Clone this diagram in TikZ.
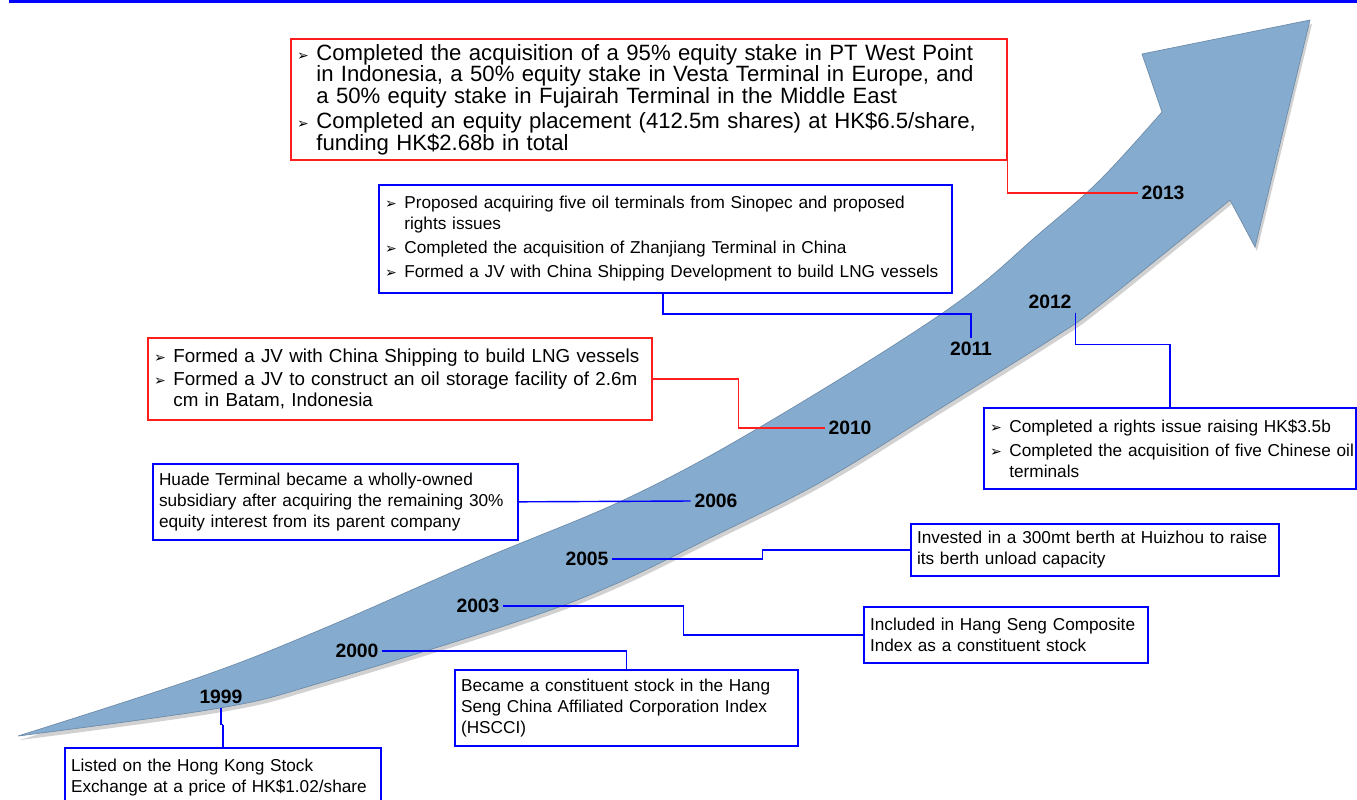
\documentclass[tikz,border=0pt]{standalone}
\usepackage{fontspec}
\setmainfont{Liberation Sans}
\newfontfamily\dejavu{DejaVu Sans}
\usetikzlibrary{calc}
\definecolor{lineblue}{RGB}{0,0,255}
\definecolor{linered}{RGB}{255,30,30}
\definecolor{arrowblue}{RGB}{133,172,207}
\definecolor{arrowedge}{RGB}{110,140,170}
\newcommand{\bitem}{\makebox[11pt][l]{\dejavu\fontsize{8}{8}\selectfont ➢}}
\newcommand{\bcont}{\hspace*{11pt}}
\newcommand{\arrowpath}{plot[smooth, tension=0.6] coordinates {(18,736) (200,677) (320,630) (480,560) (630,497) (767,423) (947,310) (1040,233) (1100,180) (1162,112)}
  -- (1142,54) -- (1310,20) -- (1255,247)
  -- plot[smooth, tension=0.6] coordinates {(1230,200) (1100,305) (1050,340) (933,413) (850,465) (793,497) (716,535) (613,585) (513,623) (320,683) (220,708) (18,736)} -- cycle}

\begin{document}
\begin{tikzpicture}[
  x=0.02cm, y=-0.02cm,
  font=\fontsize{9.8}{11.8}\selectfont,
  year/.style={
    font=\fontsize{11}{13}\selectfont\bfseries,
    inner sep=2pt,
  },
  bluebox/.style={
    draw=lineblue,
    line width=1pt,
    fill=white,
    anchor=north west,
    align=left,
    inner xsep=3.5pt,
    inner ysep=3pt,
  },
  redbox/.style={
    bluebox,
    draw=linered,
  },
  blueline/.style={draw=lineblue, line width=0.8pt},
  redline/.style={draw=linered, line width=0.8pt},
  arrowbody/.style={fill=arrowblue, draw=arrowedge, line width=0.4pt},
  arrowshadow/.style={fill=black, opacity=0.18}
]
  \useasboundingbox (0,0) rectangle (1357,799);
  \clip (0,0) rectangle (1357,799);

  % === top rule ===
  \fill[lineblue] (9,0) rectangle (1357,3);

  % === growth arrow ===
  \path[arrowshadow, shift={(2,4)}] \arrowpath;
  \path[arrowbody] \arrowpath;

  % === years on the arrow ===
  \node[year] (y-99) at (221,697) {1999};
  \node[year] (y-00) at (357,651) {2000};
  \node[year] (y-03) at (478,606) {2003};
  \node[year] (y-05) at (587,559) {2005};
  \node[year] (y-06) at (716,501) {2006};
  \node[year] (y-10) at (850,428) {2010};
  \node[year] (y-11) at (971,349) {2011};
  \node[year] (y-12) at (1050,302) {2012};
  \node[year] (y-13) at (1163,193) {2013};

  % === event boxes ===
  \node[bluebox, minimum width=179.8pt, minimum height=34.1pt, text width=172.8pt] (b-99) at (64,747)
    {Listed on the Hong Kong Stock\\ Exchange at a price of HK\$1.02/share};
  \node[bluebox, minimum width=195.2pt, minimum height=43.2pt, text width=188.2pt] (b-00) at (454,669)
    {Became a constituent stock in the Hang\\ \mbox{Seng China Affiliated Corporation Index}\\ (HSCCI)};
  \node[bluebox, minimum width=161.6pt, minimum height=31.9pt, text width=154.6pt] (b-03) at (863,606)
    {\mbox{Included in Hang Seng Composite}\\ Index as a constituent stock};
  \node[bluebox, minimum width=209.4pt, minimum height=29.6pt, text width=202.4pt] (b-05) at (910,523)
    {\mbox{Invested in a 300mt berth at Huizhou to raise}\\ its berth unload capacity};
  \node[bluebox, minimum width=207.7pt, minimum height=43.2pt, text width=200.7pt] (b-06) at (152,463)
    {Huade Terminal became a wholly-owned\\ \mbox{subsidiary after acquiring the remaining 30\%}\\ equity interest from its parent company};
  \node[redbox, minimum width=286.8pt, minimum height=46.7pt, text width=279.8pt,
        font=\fontsize{10.7}{12.2}\selectfont] (b-10) at (147,337)
    {\bitem \mbox{Formed a JV with China Shipping to build LNG vessels}\\[1pt]
     \bitem \mbox{Formed a JV to construct an oil storage facility of 2.6m}\\
     \bcont cm in Batam, Indonesia};
  \node[bluebox, minimum width=326.1pt, minimum height=61.5pt, text width=319.1pt] (b-11) at (378,184)
    {\bitem \mbox{Proposed acquiring five oil terminals from Sinopec and proposed}\\
     \bcont rights issues\\[2pt]
     \bitem Completed the acquisition of Zhanjiang Terminal in China\\[2pt]
     \bitem \mbox{Formed a JV with China Shipping Development to build LNG vessels}};
  \node[bluebox, minimum width=211.7pt, minimum height=46.1pt, text width=204.7pt] (b-12) at (983,407)
    {\bitem Completed a rights issue raising HK\$3.5b\\[2pt]
     \bitem \mbox{Completed the acquisition of five Chinese oil}\\
     \bcont terminals};
  \node[redbox, minimum width=407.4pt, minimum height=67.7pt, text width=400.4pt,
        font=\fontsize{12.6}{12.3}\selectfont] (b-13) at (290,38)
    {\bitem \mbox{Completed the acquisition of a 95\% equity stake in PT West Point}\\
     \bcont \mbox{in Indonesia, a 50\% equity stake in Vesta Terminal in Europe, and}\\
     \bcont \mbox{a 50\% equity stake in Fujairah Terminal in the Middle East}\\[2pt]
     \bitem \mbox{Completed an equity placement (412.5m shares) at HK\$6.5/share,}\\
     \bcont funding HK\$2.68b in total};

  % === connectors ===
  \draw[blueline] (y-99.south) -- ++(0,17) -- ++(2,0) coordinate (j-99);
  \draw[blueline] (j-99) -- (j-99 |- b-99.north);
  \draw[blueline] (y-00.east) -| (b-00.north);
  \draw[blueline] (y-03.east) -- ++(180,0) |- (b-03.west);
  \draw[blueline] (y-05.east) -- ++(150,0) |- (b-05.west);
  \draw[blueline] (b-06.east) -- (y-06.west);
  \draw[redline] (b-10.east) -- ++(86,0) |- (y-10.west);
  \draw[blueline] ($(b-11.south west)+(285,0)$) -- ++(0,20) -| (y-11.north);
  \draw[blueline] (y-12.south east) -- ++(0,32) -| (b-12.north);
  \draw[redline] (b-13.south east) |- (y-13.west);

\end{tikzpicture}
\end{document}
